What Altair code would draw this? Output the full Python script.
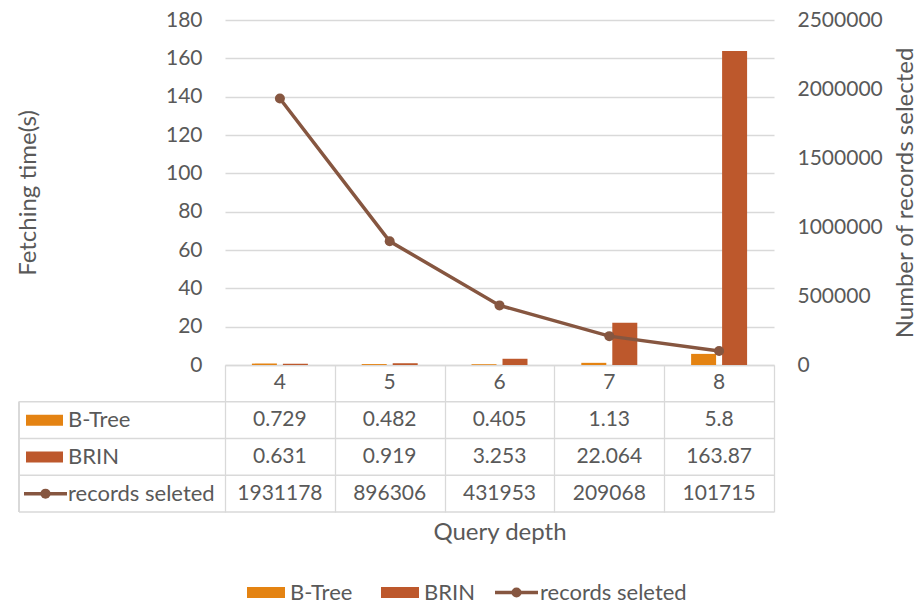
import altair as alt
import pandas as pd

# ---- data -------------------------------------------------------------
depths = ["4", "5", "6", "7", "8"]
btree_time = [0.729, 0.482, 0.405, 1.13, 5.8]
brin_time = [0.631, 0.919, 3.253, 22.064, 163.87]
records_selected = [1931178, 896306, 431953, 209068, 101715]
series_names = ["B-Tree", "BRIN", "records seleted"]
series_colors = ["#E48312", "#BD582C", "#865640"]
time_ticks = [0, 20, 40, 60, 80, 100, 120, 140, 160, 180]
record_ticks = [0, 500000, 1000000, 1500000, 2000000, 2500000]

# ---- layout / style ---------------------------------------------------
W, H = 549, 345          # plot area
TABLE_H = 147            # data table below the plot
LABEL_COL = 206          # row-label column left of the plot
TEXT = "#595959"
GRID = "#D9D9D9"
FONT = "Lato"
FS = 21                  # numbers
FS_WORD = 22             # series names
FS_TITLE = 24

bars_df = pd.DataFrame({
    "depth": depths * 2,
    "series": ["B-Tree"] * len(depths) + ["BRIN"] * len(depths),
    "value": btree_time + brin_time,
})
rec_df = pd.DataFrame({"depth": depths, "series": "records seleted",
                       "value": records_selected})

cells_df = pd.DataFrame({
    "depth": depths * 3,
    "row": [s for s in series_names for _ in depths],
    "label": [str(v) for v in btree_time + brin_time + records_selected],
})
header_df = pd.DataFrame({"depth": depths, "row": "header", "label": depths})
table_rows = ["header"] + series_names
rows_df = pd.DataFrame({"row": table_rows, "series": table_rows})
series_df = pd.DataFrame({"row": series_names, "series": series_names})

color_enc = alt.Color("series:N",
                      scale=alt.Scale(domain=series_names, range=series_colors),
                      legend=None)

x_enc = alt.X(
    "depth:N",
    scale=alt.Scale(domain=depths, paddingInner=0, paddingOuter=0),
    title="Query depth",
    axis=alt.Axis(labels=False, ticks=True, tickBand="extent", tickSize=TABLE_H,
                  tickColor=GRID, tickWidth=1.3, domainColor=GRID, domainWidth=1.3,
                  grid=False, titleX=W / 2, titleY=167, titleBaseline="middle",
                  titleAlign="center"),
)


def table_y(band):
    return alt.Y("row:N",
                 scale=alt.Scale(type="band", domain=table_rows,
                                 range=[H, H + TABLE_H],
                                 paddingInner=0, paddingOuter=0),
                 axis=None, bandPosition=band)


# ---- bars (left axis) --------------------------------------------------
bars = alt.Chart(bars_df).mark_bar().encode(
    x=x_enc,
    xOffset=alt.XOffset("series:N",
                        scale=alt.Scale(domain=["B-Tree", "BRIN"],
                                        paddingInner=0.1935, paddingOuter=0.868)),
    y=alt.Y("value:Q", scale=alt.Scale(domain=[0, 180]), title="Fetching time(s)",
            axis=alt.Axis(values=time_ticks, grid=True, gridColor=GRID, gridWidth=1.3,
                          domain=False, ticks=False, labelPadding=23,
                          titleAngle=270, titleBaseline="middle", titleAlign="center",
                          titleX=-197, titleY=172.5)),
    color=color_enc,
)

# ---- records line (right axis) ----------------------------------------
line = alt.Chart(rec_df).mark_line(
    strokeWidth=3.5,
    point=alt.OverlayMarkDef(filled=True, size=100, opacity=1),
).encode(
    x=x_enc,
    y=alt.Y("value:Q", scale=alt.Scale(domain=[0, 2500000]),
            title="Number of records selected",
            axis=alt.Axis(orient="right", values=record_ticks, format="d", grid=False,
                          domain=False, ticks=False, labelPadding=23,
                          titleAngle=270, titleBaseline="middle", titleAlign="center",
                          titleX=131, titleY=172.5)),
    color=color_enc,
)

# ---- data table -------------------------------------------------------
txt = dict(font=FONT, fontSize=FS, color=TEXT)
word = dict(font=FONT, fontSize=FS_WORD, color=TEXT)

header_text = alt.Chart(header_df).mark_text(**txt).encode(
    x=x_enc, y=table_y(0.5), text="label:N")

cell_text = alt.Chart(cells_df).mark_text(**txt).encode(
    x=x_enc, y=table_y(0.5), text="label:N")

row_lines = alt.Chart(rows_df).mark_rule(color=GRID, strokeWidth=1.3).encode(
    y=table_y(1), x=alt.value(-LABEL_COL), x2=alt.value(W))

left_border = alt.Chart(rows_df).mark_rule(color=GRID, strokeWidth=1.3).encode(
    x=alt.value(-LABEL_COL), y=alt.value(H + TABLE_H / 4), y2=alt.value(H + TABLE_H))

row_swatch = alt.Chart(series_df).transform_filter(
    alt.FieldOneOfPredicate(field="row", oneOf=["B-Tree", "BRIN"])
).mark_tick(orient="horizontal", size=37, thickness=11, opacity=1).encode(
    x=alt.value(-180.5), y=table_y(0.5), color=color_enc)

row_line_sym = alt.Chart(series_df).transform_filter(
    alt.datum.row == "records seleted"
).mark_rule(strokeWidth=3.5).encode(
    x=alt.value(-201), x2=alt.value(-158), y=table_y(0.5), color=color_enc)

row_line_pt = alt.Chart(series_df).transform_filter(
    alt.datum.row == "records seleted"
).mark_point(filled=True, size=100, opacity=1).encode(
    x=alt.value(-179.5), y=table_y(0.5), color=color_enc)

row_labels = alt.Chart(series_df).mark_text(align="left", **word).encode(
    x=alt.value(-157), y=table_y(0.5), text="row:N")

# ---- bottom legend ----------------------------------------------------
LEG_Y = 572.5
leg_left = {"B-Tree": 22, "BRIN": 156, "records seleted": 270}
legend_layers = []
for name, left in leg_left.items():
    d = pd.DataFrame({"row": [name], "series": [name]})
    if name == "records seleted":
        legend_layers.append(alt.Chart(d).mark_rule(strokeWidth=3.5).encode(
            x=alt.value(left), x2=alt.value(left + 43), y=alt.value(LEG_Y),
            color=color_enc))
        legend_layers.append(alt.Chart(d).mark_point(filled=True, size=100, opacity=1).encode(
            x=alt.value(left + 21.5), y=alt.value(LEG_Y), color=color_enc))
        tx = left + 45
    else:
        legend_layers.append(alt.Chart(d).mark_tick(
            orient="horizontal", size=38, thickness=11, opacity=1).encode(
            x=alt.value(left + 19), y=alt.value(LEG_Y), color=color_enc))
        tx = left + 43
    legend_layers.append(alt.Chart(d).mark_text(align="left", **word).encode(
        x=alt.value(tx), y=alt.value(LEG_Y), text="row:N"))

chart = alt.layer(
    bars, line,
    row_lines, left_border, header_text, cell_text,
    row_swatch, row_line_sym, row_line_pt, row_labels,
    *legend_layers,
).resolve_scale(
    y="independent"
).properties(
    width=W, height=H,
    autosize=alt.AutoSizeParams(type="none"),
    padding={"left": 225, "top": 20, "right": 147, "bottom": 238},
).configure_view(
    stroke=None
).configure_axis(
    labelFont=FONT, titleFont=FONT, labelColor=TEXT, titleColor=TEXT,
    labelFontSize=FS, titleFontSize=FS_TITLE, titleFontWeight="normal",
)

chart.save("out.html", embed_options={"renderer": "svg", "actions": False})
